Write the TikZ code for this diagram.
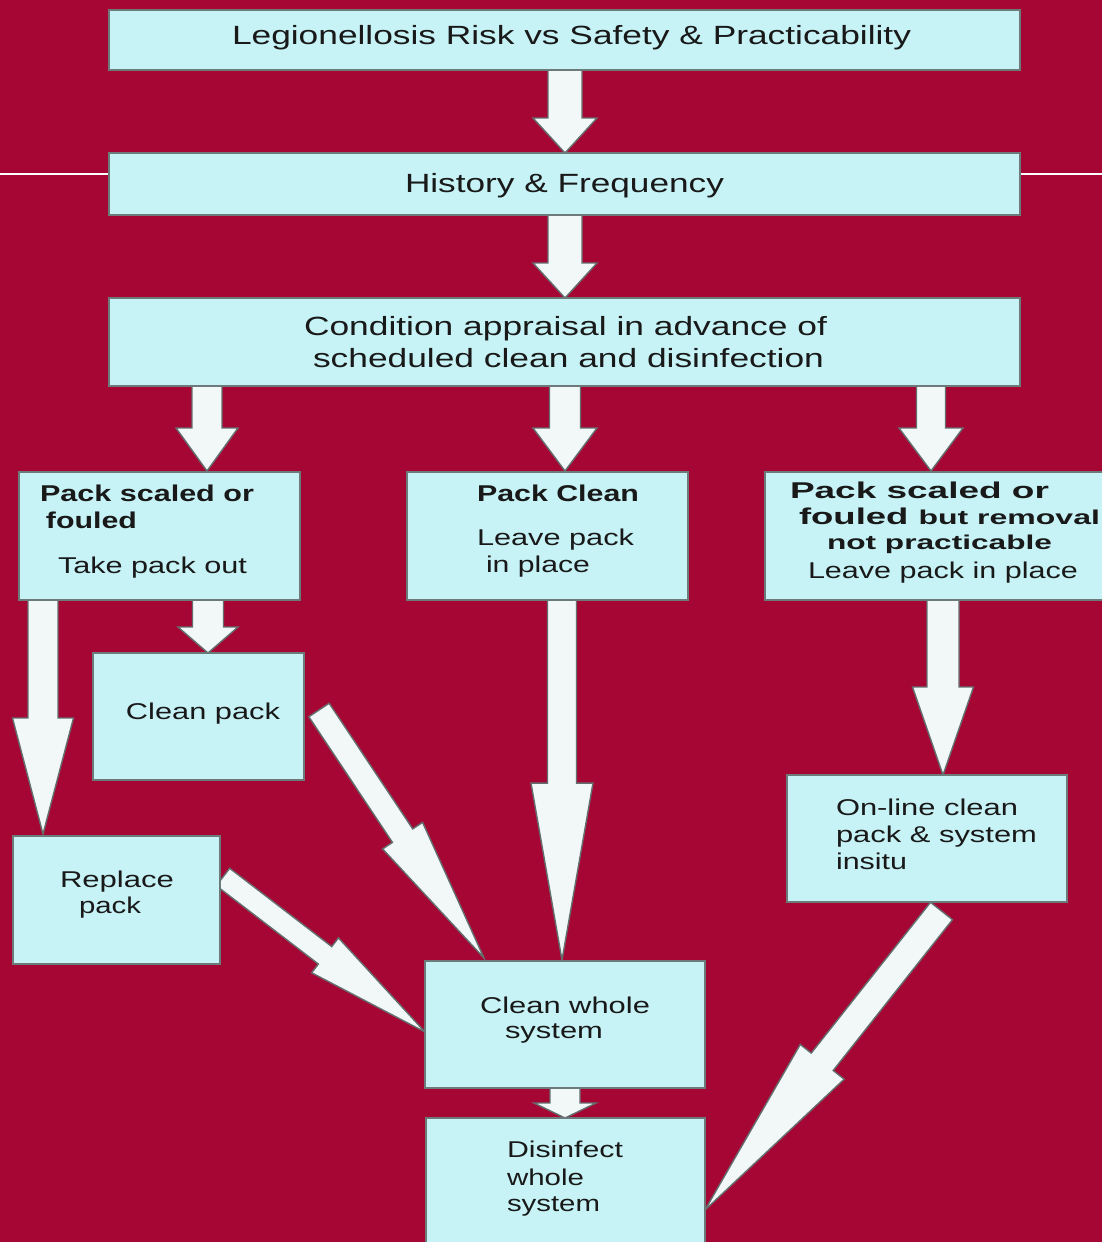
\documentclass[tikz,border=0pt]{standalone}
\usepackage{fontspec}
\setmainfont{Liberation Sans}
\usepackage{graphicx}
\usetikzlibrary{calc}
\definecolor{bgc}{RGB}{166,6,52}
\definecolor{boxfill}{RGB}{199,243,246}
\definecolor{boxline}{RGB}{108,122,122}
\definecolor{arrfill}{RGB}{242,248,248}
\definecolor{arrline}{RGB}{100,110,110}
\definecolor{txtc}{RGB}{25,25,25}
\newdimen\pxu \pxu=0.02cm
\tikzset{
  boxst/.style={draw=boxline, fill=boxfill, line width=1pt, inner sep=0pt, outer sep=0pt},
  arrowst/.style={draw=arrline, fill=arrfill, line width=0.8pt, line join=miter},
  txtst/.style={inner sep=0pt, outer sep=0pt, text=txtc, anchor=base west},
}
\newcommand\bx[5]{\node[boxst, minimum width={(#4-#2)*0.02cm}, minimum height={(#5-#3)*0.02cm}] (#1) at ({(#2+#4)/2},{(#3+#5)/2}) {};}
\newcommand\tx[6]{\node[txtst] (#1) at (#2,#3) {\resizebox{#4\pxu}{\height}{\fontsize{#5}{#5}\selectfont #6}};}
\newcommand\barrow[5]{%
  \coordinate (hb) at ($(#2)!#5!(#1)$);
  \filldraw[arrowst] ($(#1)!#3!90:(#2)$) -- ($(hb)!#3!90:(#2)$) -- ($(hb)!#4!90:(#2)$) -- (#2)
     -- ($(hb)!#4!-90:(#2)$) -- ($(hb)!#3!-90:(#2)$) -- ($(#1)!#3!-90:(#2)$) -- cycle;}
\begin{document}
\begin{tikzpicture}[x=0.02cm, y=-0.02cm]
\useasboundingbox (0,0) rectangle (1102,1242);
\clip (0,0) rectangle (1102,1242);
\fill[bgc] (0,0) rectangle (1102,1242);
\draw[white, line width=1.2pt] (0,174) -- (109,174);
\draw[white, line width=1.2pt] (1020,174) -- (1102,174);

% coordinates for arrow ends
\coordinate (a3s) at (207,386); \coordinate (a3e) at (207,471);
\coordinate (a4s) at (565,386); \coordinate (a4e) at (565,471);
\coordinate (a5s) at (931,386); \coordinate (a5e) at (931,471);
\coordinate (a6s) at (43,600);  \coordinate (a6e) at (43,834);
\coordinate (a7s) at (208,600); \coordinate (a7e) at (208,653);
\coordinate (a8s) at (562,600); \coordinate (a8e) at (562,960);
\coordinate (a9s) at (943,600); \coordinate (a9e) at (943,775);
\coordinate (a10s) at (565,1088); \coordinate (a10e) at (565,1118);
\coordinate (a11s) at (319,710); \coordinate (a11e) at (484,958);
\coordinate (a12s) at (223,877); \coordinate (a12e) at (425,1032);
\coordinate (a13s) at (941.5,911); \coordinate (a13e) at (705,1210);
\coordinate (t1s) at (565,70); \coordinate (t1e) at (565,153);
\coordinate (t2s) at (565,215); \coordinate (t2e) at (565,298);

% arrows (drawn beneath boxes)
\barrow{t1s}{t1e}{0.34cm}{0.64cm}{0.70cm}
\barrow{t2s}{t2e}{0.34cm}{0.64cm}{0.70cm}
\barrow{a3s}{a3e}{0.30cm}{0.62cm}{0.86cm}
\barrow{a4s}{a4e}{0.31cm}{0.64cm}{0.86cm}
\barrow{a5s}{a5e}{0.29cm}{0.64cm}{0.86cm}
\barrow{a6s}{a6e}{0.30cm}{0.61cm}{2.32cm}
\barrow{a7s}{a7e}{0.31cm}{0.60cm}{0.52cm}
\barrow{a8s}{a8e}{0.29cm}{0.62cm}{3.54cm}
\barrow{a9s}{a9e}{0.32cm}{0.61cm}{1.76cm}
\barrow{a10s}{a10e}{0.30cm}{0.62cm}{0.30cm}
\barrow{a11s}{a11e}{0.244cm}{0.48cm}{2.94cm}
\barrow{a12s}{a12e}{0.22cm}{0.44cm}{2.52cm}
\barrow{a13s}{a13e}{0.28cm}{0.56cm}{3.78cm}

% boxes
\bx{top}{109}{10}{1020}{70}
\bx{hist}{109}{153}{1020}{215}
\bx{cond}{109}{298}{1020}{386}
\bx{lone}{19}{472}{300}{600}
\bx{mone}{407}{472}{688}{600}
\bx{rone}{765}{472}{1115}{600}
\bx{cpack}{93}{653}{304}{780}
\bx{rpack}{13}{836}{220}{964}
\bx{online}{787}{775}{1067}{902}
\bx{cwhole}{425}{961}{705}{1088}
\bx{dwhole}{426}{1118}{705}{1255}

% texts
\tx{ta}{232}{44}{679}{15}{Legionellosis Risk vs Safety \& Practicability}
\tx{tb}{405}{192}{319}{15}{History \& Frequency}
\tx{tc}{304}{335}{523}{15}{Condition appraisal in advance of}
\tx{td}{313}{367}{511}{15}{scheduled clean and disinfection}
\tx{la}{40}{501}{214}{13}{\bfseries Pack scaled or}
\tx{lb}{46}{528}{91}{13}{\bfseries fouled}
\tx{lc}{58}{573}{189}{13}{Take pack out}
\tx{ma}{477}{501}{162}{13}{\bfseries Pack Clean}
\tx{mb}{477}{545}{157}{13}{Leave pack}
\tx{mc}{486}{572}{104}{13}{in place}
\tx{ra}{790}{498}{259}{13}{\bfseries Pack scaled or}
\tx{rb}{799}{524}{301}{13}{\bfseries fouled {\fontsize{11.4}{11.4}\selectfont but removal}}
\tx{rc}{827}{549}{225}{11.4}{\bfseries not practicable}
\tx{rd}{808}{578}{270}{13}{Leave pack in place}
\tx{ca}{126}{719}{154}{13}{Clean pack}
\tx{pa}{60}{887}{114}{13}{Replace}
\tx{pb}{79}{913}{62}{13}{pack}
\tx{oa}{836}{815}{182}{13}{On-line clean}
\tx{ob}{836}{842}{201}{13}{pack \& system}
\tx{oc}{836}{869}{71}{13}{insitu}
\tx{wa}{480}{1013}{170}{13}{Clean whole}
\tx{wb}{505}{1038}{98}{13}{system}
\tx{da}{507}{1157}{116}{13}{Disinfect}
\tx{db}{507}{1185}{77}{13}{whole}
\tx{dc}{507}{1211}{93}{13}{system}
\end{tikzpicture}
\end{document}
